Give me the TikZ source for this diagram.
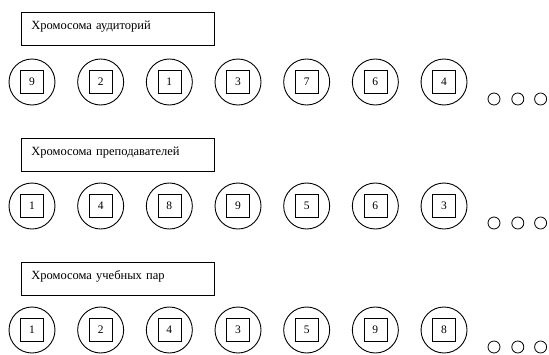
\documentclass[tikz,border=0pt]{standalone}
\usepackage{fontspec}
\setmainfont{Liberation Serif}
\usetikzlibrary{positioning}

\begin{document}
\begin{tikzpicture}[x=1pt, y=-1pt,
  title/.style={draw, line width=0.7pt, anchor=north west, align=left,
                text width=173pt, inner xsep=10pt, inner ysep=4pt,
                text height=13pt, text depth=12pt,
                font=\fontsize{12.5}{14}\selectfont},
  gene/.style={draw, circle, line width=0.9pt, minimum size=46pt, inner sep=0pt},
  locus/.style={draw, rectangle, line width=0.6pt, minimum size=23pt,
                inner sep=0pt, font=\fontsize{11.5}{13}\selectfont},
  more/.style={draw, circle, line width=0.8pt, minimum size=12pt, inner sep=0pt}
]
\useasboundingbox (0,0) rectangle (549,354);
\foreach \row/\ty/\cy/\name/\genes in {
    1/12/82/{Хромосома аудиторий}/{9,2,1,3,7,6,4},
    2/138/206/{Хромосома преподавателей}/{1,4,8,9,5,6,3},
    3/262/330/{Хромосома учебных пар}/{1,2,4,3,5,9,8}} {
  \node[title] (t\row) at (21,\ty) {\name};
  \foreach \g [count=\i] in \genes {
    \node[gene]  (r\row g\i) at ({32+68.67*(\i-1)},\cy) {};
    \node[locus] (r\row s\i) at (r\row g\i) {\g};
  }
  % tail of the chromosome
  \node[more] (r\row m1) at (494,\cy+17) {};
  \node[more, right=11pt of r\row m1] (r\row m2) {};
  \node[more, right=10pt of r\row m2] (r\row m3) {};
}
\end{tikzpicture}
\end{document}
